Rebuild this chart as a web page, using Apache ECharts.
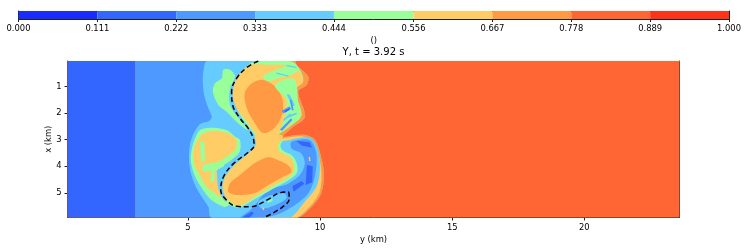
<!DOCTYPE html>
<html><head><meta charset="utf-8">
<style>html,body{margin:0;background:#fff}#c{width:747px;height:249px}</style>
<script src="https://cdn.jsdelivr.net/npm/echarts@6/dist/echarts.min.js"></script>
</head><body><div id="c"></div>
<script>
const levelBounds=[0,0.111,0.222,0.333,0.444,0.556,0.667,0.778,0.889,1];
const levelColors=['#1a2bff','#3366ff','#4d99ff','#66ccff','#99ff99','#ffcc66','#ff9944','#ff6633','#ff3319'];
const yTicks=[5,10,15,20];
const xTicks=[1,2,3,4,5];
// filled regions, [y km, x km], painted in order
const domain=[[0.44,0.05],[23.6,0.05],[23.6,5.95],[0.44,5.95]];
const band1=[[0.44,0.05],[3,0.05],[3,5.95],[0.44,5.95]];
const band2=[[3,0.05],[8,0.05],[8,5.95],[3,5.95]];
const swirl=[[5.73,0.05],[5.58,0.45],[5.56,0.82],[5.61,1.32],[5.77,1.82],[5.90,2.14],[5.81,2.29],[5.46,2.41],[5.23,2.73],[5.08,3.14],[5.04,3.71],[5.10,4.21],[5.27,4.71],[5.52,5.15],[5.77,5.52],[5.90,5.95],[9.11,5.95],[9.68,5.52],[10.06,4.96],[10.14,4.21],[9.99,3.46],[9.80,3.0],[9.4,2.82],[8.86,2.86],[8.48,2.95],[8.98,2.52],[9.43,2.14],[9.17,1.2],[9.49,0.95],[9.55,0.63],[9.11,0.2],[9.05,0.05]];
const upperRing=[[9.05,0.05],[9.11,0.2],[9.55,0.63],[9.49,0.95],[9.17,1.2],[9.43,2.14],[8.98,2.52],[8.48,2.95],[8.2,2.95],[8.7,2.4],[9.1,2.0],[8.9,1.2],[9.2,0.85],[9.1,0.5],[8.8,0.05]];
const upperGreen=[[7.28,0.20],[7.54,0.07],[8.92,0.07],[9.24,0.38],[9.36,0.82],[9.05,1.14],[9.30,2.08],[8.86,2.51],[8.35,2.83],[7.72,2.95],[7.54,2.83],[7.28,2.51],[6.97,2.08],[6.78,1.57],[6.78,1.07],[6.97,0.57]];
const leftStreak=[[6.34,0.38],[6.59,0.38],[6.78,0.63],[6.59,1.07],[6.59,1.70],[6.97,2.26],[7.28,2.64],[6.91,2.39],[6.46,1.95],[6.15,1.70],[5.94,1.20],[6.02,0.89],[6.28,0.70]];
const upperYellow=[[7.02,0.45],[7.35,0.20],[7.8,0.18],[8.95,0.25],[9.25,0.5],[9.35,0.85],[9.05,1.1],[9.15,1.7],[9.28,2.08],[8.8,2.5],[8.3,2.82],[7.79,2.95],[7.5,2.7],[7.2,2.3],[6.85,1.85],[6.70,1.39],[6.75,0.9]];
const upperCore=[[7.16,1.2],[7.41,0.89],[7.85,0.76],[8.29,1.0],[8.54,1.39],[8.60,1.89],[8.41,2.39],[8.04,2.72],[7.79,2.73],[7.54,2.39],[7.28,1.95],[7.16,1.57]];
const topArc=[[7.85,0.63],[8.35,0.38],[8.98,0.2],[9.17,0.38],[8.92,0.57],[8.41,0.70],[8.04,0.82]];
const blueArcA=[[8.35,0.48],[8.8,0.59],[8.8,0.64],[8.35,0.53]];
const blueArcB=[[8.73,0.2],[9.1,0.27],[9.1,0.31],[8.73,0.25]];
const streakGreen=[[8.29,1.01],[8.6,0.76],[9.05,0.76],[9.17,1.64],[9.24,2.2],[8.79,2.45],[8.48,2.70],[8.67,2.14],[8.73,1.51]];
const streakA=[[8.73,1.3],[8.85,1.32],[9.05,1.72],[8.95,1.75]];
const streakB=[[8.85,1.5],[8.92,1.5],[9.0,1.9],[8.93,1.9]];
const streakC=[[8.55,1.92],[8.85,1.75],[8.9,1.85],[8.6,2.02]];
const streakD=[[8.65,1.93],[8.82,1.82],[8.85,1.88],[8.68,1.98]];
const streakE=[[8.48,2.62],[8.9,2.2],[8.95,2.26],[8.55,2.68]];
const streakF=[[8.73,2.12],[9.1,1.98],[9.12,2.05],[8.76,2.2]];
const streakG=[[8.65,1.45],[8.72,1.45],[8.7,1.7],[8.63,1.7]];
const streakH=[[8.6,2.25],[8.85,2.02],[8.9,2.08],[8.65,2.3]];
const lobeGreen=[[5.46,2.64],[5.96,2.55],[6.46,2.64],[6.78,2.89],[6.97,3.02],[6.95,3.46],[6.59,3.80],[6.21,4.05],[6.0,4.3],[6.1,4.8],[6.4,5.3],[7.28,5.73],[6.53,5.58],[5.9,5.27],[5.45,4.71],[5.2,4.2],[5.10,3.71],[5.20,3.14]];
const lobeYellow=[[5.30,3.14],[5.58,2.77],[6.09,2.68],[6.53,2.77],[6.84,3.02],[6.78,3.39],[6.46,3.64],[6.10,3.90],[6.10,4.33],[6.15,4.83],[6.40,5.27],[7.28,5.52],[6.71,5.42],[6.21,5.14],[5.71,4.77],[5.45,4.33],[5.26,3.96],[5.2,3.46]];
const lobePatchA=[[6.34,3.85],[5.64,3.93],[5.52,4.08],[5.64,4.2],[6.34,4.02]];
const lobePatchB=[[5.9,4.08],[6.02,4.08],[6.0,4.58],[5.85,4.58]];
const lobePatchC=[[5.45,3.08],[5.62,3.08],[5.65,3.8],[5.5,3.85]];
const blobOrange=[[9.11,5.95],[9.68,5.52],[10.06,4.96],[10.14,4.21],[9.99,3.46],[9.80,3.0],[9.4,2.82],[8.86,2.86],[8.48,2.98],[8.0,4.5],[7.5,5.95]];
const blobYellow=[[9.05,5.95],[9.6,5.52],[9.98,4.96],[10.05,4.25],[9.93,3.5],[9.72,3.03],[9.35,2.88],[8.9,2.9],[8.5,3.05],[8.0,4.5],[7.5,5.95]];
const blobBlue=[[8.79,5.95],[9.42,5.33],[9.86,4.77],[9.99,4.14],[9.92,3.39],[9.67,2.95],[9.3,2.92],[8.79,3.02],[8.5,3.1],[8.0,4.5],[5.9,5.95]];
const blobDeep=[[8.92,3.08],[9.61,3.02],[9.86,3.52],[9.8,4.39],[9.55,5.02],[9.04,5.46],[8.29,5.84],[7.53,5.95],[6.97,5.95],[7.35,5.65],[7.53,5.46],[8.03,4.9],[8.79,4.65],[9.23,4.33],[9.42,3.89],[9.29,3.52],[8.92,3.33]];
const deepA=[[9.1,3.05],[9.6,3.1],[9.7,3.3],[9.3,3.22]];
const deepB=[[9.5,3.95],[9.72,4.0],[9.7,4.6],[9.45,4.7]];
const deepC=[[8.95,4.75],[9.3,4.55],[9.4,4.65],[9.0,4.95]];
const deepD=[[7.0,5.95],[7.4,5.7],[7.5,5.75],[7.3,5.95]];
const speck=[[9.57,3.65],[9.62,3.65],[9.63,3.8],[9.58,3.8]];
const loopPatch=[[7.66,5.33],[8.16,5.08],[8.66,5.02],[8.73,5.21],[8.29,5.46],[7.78,5.58]];
const loopSpotA=[[8.0,5.3],[8.2,5.22],[8.2,5.3],[8.02,5.38]];
const loopSpotB=[[7.83,5.55],[7.88,5.55],[7.88,5.64],[7.83,5.64]];
const lowerGreen=[[8.7,2.89],[8.5,3.2],[8.58,3.4],[8.95,3.6],[9.12,3.9],[9.12,4.25],[8.8,4.52],[8.2,4.85],[7.55,5.22],[6.9,5.55],[6.46,5.3],[7.5,4.0]];
const lowerYellow=[[7.54,2.83],[8.41,2.8],[8.60,2.89],[8.41,3.20],[8.48,3.45],[8.85,3.64],[9.0,3.9],[9.0,4.2],[8.73,4.46],[8.16,4.77],[7.53,5.15],[6.91,5.49],[6.46,5.21],[6.31,4.83],[6.40,4.40],[6.78,3.93],[7.28,3.52],[7.57,3.18]];
const lowerCore=[[6.53,4.96],[6.59,4.64],[7.03,4.28],[7.53,3.88],[8.03,3.66],[8.41,3.77],[8.79,3.96],[8.92,4.21],[8.60,4.39],[8.03,4.71],[7.53,5.0],[6.9,5.08]];
const contour=[[7.66,0.05],[7.22,0.30],[6.84,0.70],[6.65,1.20],[6.69,1.70],[6.97,2.20],[7.28,2.58],[7.47,2.95],[7.50,3.21],[7.22,3.52],[6.72,3.90],[6.34,4.40],[6.24,4.90],[6.46,5.27],[6.84,5.50],[7.35,5.52],[7.98,5.27],[8.48,4.99],[8.80,4.96],[8.83,5.21],[8.48,5.59],[7.85,5.93]];
const regions=[[7,domain],[1,band1],[2,band2],[3,swirl],[6,upperRing],[4,upperGreen],[4,leftStreak],[5,upperYellow],[6,upperCore],[4,topArc],[3,blueArcA],[3,blueArcB],[4,streakGreen],[3,streakA],[2,streakB],[2,streakC],[1,streakD],[2,streakE],[3,streakF],[5,streakG],[3,streakH],[4,lobeGreen],[5,lobeYellow],[4,lobePatchA],[4,lobePatchB],[4,lobePatchC],[6,blobOrange],[5,blobYellow],[3,blobBlue],[2,blobDeep],[1,deepA],[1,deepB],[1,deepC],[1,deepD],[5,speck],[3,loopPatch],[4,loopSpotA],[5,loopSpotB],[4,lowerGreen],[5,lowerYellow],[6,lowerCore]];

const font='DejaVu Sans',ink='#000';
const chart=echarts.init(document.getElementById('c'),null,{renderer:'canvas'});
const tickLab={fontFamily:font,fontSize:8.4,color:ink};
chart.setOption({
 animation:false,backgroundColor:'#fff',
 title:{text:'Y, t = 3.92 s',left:373.5,top:47,textAlign:'center',padding:0,textStyle:{fontFamily:font,fontSize:10,fontWeight:'normal',color:ink}},
 grid:[{left:67.5,right:67.5,top:61,height:156.5},{left:18.5,right:18,top:11,height:8}],
 xAxis:[
  {gridIndex:0,type:'value',min:0.44,max:23.6,name:'y (km)',nameLocation:'middle',nameMoveOverlap:false,nameGap:18,nameTextStyle:{fontFamily:font,fontSize:8.4,color:ink},
   axisLine:{onZero:false,lineStyle:{color:'#222',width:1}},axisTick:{length:3,lineStyle:{color:'#222'},customValues:yTicks},axisLabel:{...tickLab,margin:6,customValues:yTicks},splitLine:{show:false}},
  {gridIndex:0,type:'value',position:'top',min:0.44,max:23.6,axisLine:{onZero:false,lineStyle:{color:'#666',width:1}},axisTick:{show:false},axisLabel:{show:false},splitLine:{show:false}},
  {gridIndex:1,type:'value',min:0,max:1,name:'()',nameLocation:'middle',nameMoveOverlap:false,nameGap:18,nameTextStyle:{fontFamily:font,fontSize:8.4,color:ink},
   axisLine:{onZero:false,lineStyle:{color:'#222'}},axisTick:{length:3,lineStyle:{color:'#222'},customValues:levelBounds},
   axisLabel:{...tickLab,margin:6,customValues:levelBounds,formatter:v=>v.toFixed(3)},splitLine:{show:false}},
  {gridIndex:1,type:'value',position:'top',min:0,max:1,axisLine:{onZero:false,lineStyle:{color:'#222'}},axisTick:{show:false},axisLabel:{show:false},splitLine:{show:false}}
 ],
 yAxis:[
  {gridIndex:0,type:'value',inverse:true,min:0.05,max:5.92,name:'x (km)',nameLocation:'middle',nameMoveOverlap:false,nameGap:15,nameTextStyle:{fontFamily:font,fontSize:8.4,color:ink},
   axisLine:{onZero:false,lineStyle:{color:'#222'}},axisTick:{length:3,lineStyle:{color:'#222'},customValues:xTicks},axisLabel:{...tickLab,margin:6,customValues:xTicks},splitLine:{show:false}},
  {gridIndex:0,type:'value',position:'right',inverse:true,min:0.05,max:5.92,axisLine:{onZero:false,lineStyle:{color:'#222'}},axisTick:{show:false},axisLabel:{show:false},splitLine:{show:false}},
  {gridIndex:1,type:'value',min:0,max:1,axisLine:{onZero:false,lineStyle:{color:'#222'}},axisTick:{show:false},axisLabel:{show:false},splitLine:{show:false}},
  {gridIndex:1,type:'value',position:'right',min:0,max:1,axisLine:{onZero:false,lineStyle:{color:'#222'}},axisTick:{show:false},axisLabel:{show:false},splitLine:{show:false}}
 ],
 series:[
  {type:'custom',xAxisIndex:0,yAxisIndex:0,clip:true,silent:true,coordinateSystem:'cartesian2d',
   data:regions.map((r,i)=>[i]),
   renderItem:(p,api)=>{const r=regions[p.dataIndex];
     return {type:'polygon',shape:{points:r[1].map(q=>api.coord(q)),smooth:r[1].length>4?0.3:0},style:{fill:levelColors[r[0]]}};}},
  {type:'line',xAxisIndex:0,yAxisIndex:0,data:contour,showSymbol:false,smooth:0.4,clip:true,silent:true,z:5,
   lineStyle:{color:'#000',width:1.5,type:[5,3]}},
  {type:'custom',xAxisIndex:2,yAxisIndex:2,silent:true,clip:true,
   data:levelColors.map((c,i)=>[i]),
   renderItem:(p,api)=>{const i=p.dataIndex,a=api.coord([levelBounds[i],1]),b=api.coord([levelBounds[i+1],0]);
     return {type:'rect',shape:{x:a[0],y:a[1],width:b[0]-a[0],height:b[1]-a[1]},style:{fill:levelColors[i]}};}}
 ]
});
</script></body></html>
